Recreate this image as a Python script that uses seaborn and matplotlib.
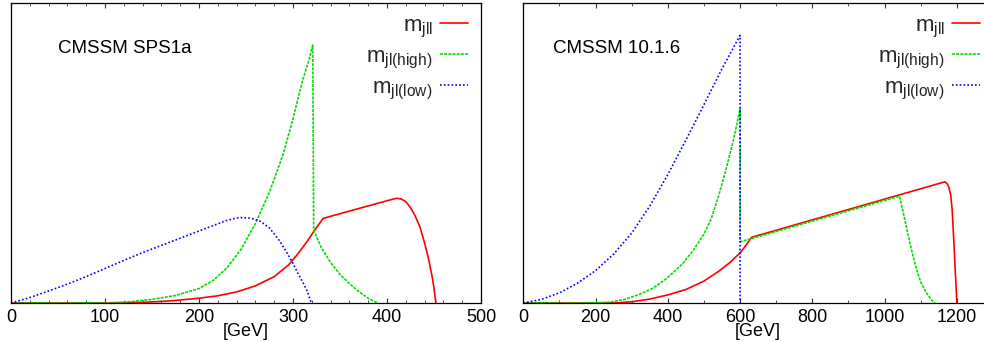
import matplotlib
matplotlib.use('Agg')
from matplotlib import pyplot as plt
from matplotlib.ticker import MultipleLocator
import seaborn as sns

# ---- left panel: CMSSM SPS1a (y normalised to axis height) ----
sps_jll_x = [0, 100, 140, 170, 200, 220, 240, 260, 280, 295, 305, 315, 322, 332,
             370, 405, 410, 415, 420, 425, 430, 435, 440, 444, 448, 450, 452]
sps_jll_y = [0, 0, 0.002, 0.007, 0.016, 0.024, 0.037, 0.057, 0.088, 0.126, 0.163, 0.205, 0.238, 0.282,
             0.315, 0.345, 0.349, 0.347, 0.338, 0.318, 0.29, 0.254, 0.2, 0.15, 0.088, 0.05, 0]

sps_high_x = [0, 100, 125, 150, 175, 200, 215, 230, 245, 260, 275, 290, 300, 310, 317, 321,
              322, 330, 340, 350, 360, 370, 380, 390]
sps_high_y = [0, 0, 0.004, 0.012, 0.025, 0.048, 0.075, 0.118, 0.18, 0.265, 0.37, 0.5, 0.615, 0.74, 0.81, 0.86,
              0.243, 0.185, 0.135, 0.095, 0.065, 0.038, 0.016, 0]

sps_low_x = [0, 20, 40, 60, 80, 100, 120, 140, 160, 180, 200, 215, 230, 243, 255, 265,
             275, 285, 290, 295, 300, 305, 311, 315, 319.5]
sps_low_y = [0, 0.018, 0.04, 0.063, 0.088, 0.115, 0.142, 0.168, 0.192, 0.216, 0.24, 0.258, 0.276, 0.285, 0.283, 0.273,
             0.25, 0.21, 0.186, 0.16, 0.132, 0.1, 0.066, 0.04, 0]

# ---- right panel: CMSSM 10.1.6 ----
c10_jll_x = [0, 250, 300, 350, 400, 450, 500, 540, 570, 600, 615, 632,
             1167, 1173, 1178, 1183, 1187, 1191, 1195, 1198, 1200]
c10_jll_y = [0, 0, 0.004, 0.013, 0.027, 0.045, 0.073, 0.105, 0.133, 0.167, 0.19, 0.219,
             0.404, 0.398, 0.385, 0.36, 0.31, 0.22, 0.12, 0.05, 0]

c10_high_x = [0, 200, 240, 280, 320, 360, 400, 440, 470, 500, 520, 540, 560, 580, 590, 600,
              600, 632, 1041, 1050, 1060, 1070, 1080, 1090, 1100, 1115, 1130, 1140]
c10_high_y = [0, 0, 0.003, 0.012, 0.028, 0.05, 0.085, 0.13, 0.175, 0.23, 0.28, 0.355, 0.44, 0.535, 0.59, 0.648,
              0.204, 0.215, 0.356, 0.31, 0.255, 0.2, 0.15, 0.105, 0.07, 0.035, 0.01, 0]

c10_low_x = [0, 50, 100, 150, 200, 250, 300, 350, 400, 450, 500, 550, 600, 600]
c10_low_y = [0, 0.012, 0.034, 0.066, 0.108, 0.163, 0.233, 0.323, 0.428, 0.543, 0.661, 0.781, 0.892, 0]

labels = [r'$\mathrm{m_{jll}}$', r'$\mathrm{m_{jl(high)}}$', r'$\mathrm{m_{jl(low)}}$']
colors = ['#ff0000', '#00e000', '#0000ff']
styles = ['-', (0, (1.8, 0.7)), (0, (1.0, 1.3))]

sns.set_style('ticks')
plt.rcParams['font.family'] = ['Liberation Sans', 'DejaVu Sans']
plt.rcParams['mathtext.fontset'] = 'custom'
plt.rcParams['mathtext.rm'] = 'Liberation Sans'
plt.rcParams['mathtext.it'] = 'Liberation Sans:italic'
plt.rcParams['xtick.direction'] = 'in'
plt.rcParams['axes.linewidth'] = 0.9


def draw_panel(ax, curves, title, title_x, xmax, major, minor):
    for (x, y), lab, col, ls in zip(curves, labels, colors, styles):
        sns.lineplot(x=x, y=y, ax=ax, estimator=None, sort=False, color=col,
                     linestyle=ls, linewidth=1.2, label=lab)
    ax.set_xlim(0, xmax)
    ax.set_ylim(0, 1)
    ax.set_yticks([])
    ax.set_ylabel('')
    ax.xaxis.set_major_locator(MultipleLocator(major))
    ax.xaxis.set_minor_locator(MultipleLocator(minor))
    ax.tick_params(axis='x', which='both', top=True, bottom=True, colors='#333333',
                   labelcolor='black', labelsize=13, pad=4)
    ax.tick_params(axis='x', which='major', length=3.5, width=0.8)
    ax.tick_params(axis='x', which='minor', length=2, width=0.6)
    for s in ax.spines.values():
        s.set_visible(True)
        s.set_color('black')
    ax.set_xlabel('[GeV]', fontsize=13, labelpad=-1.5, color='black')
    ax.text(title_x, 0.848, title, fontsize=13.5, va='center', ha='left', color='black')
    ax.legend(loc='upper right', bbox_to_anchor=(0.972, 0.96), frameon=False,
              markerfirst=False, fontsize=16, handlelength=1.25, handletextpad=0.33,
              labelspacing=0.29, borderpad=0, borderaxespad=0)


fig = plt.figure(figsize=(9.84, 3.42), dpi=100)
ax1 = fig.add_axes([11 / 984, 39 / 342, 470 / 984, 300 / 342])
ax2 = fig.add_axes([523.3 / 984, 39 / 342, 469.7 / 984, 300 / 342])

draw_panel(ax1, [(sps_jll_x, sps_jll_y), (sps_high_x, sps_high_y), (sps_low_x, sps_low_y)],
           'CMSSM SPS1a', 50, 500, 100, 20)
draw_panel(ax2, [(c10_jll_x, c10_jll_y), (c10_high_x, c10_high_y), (c10_low_x, c10_low_y)],
           'CMSSM 10.1.6', 83, 1300, 200, 100)

fig.savefig('out.png', dpi=100)
